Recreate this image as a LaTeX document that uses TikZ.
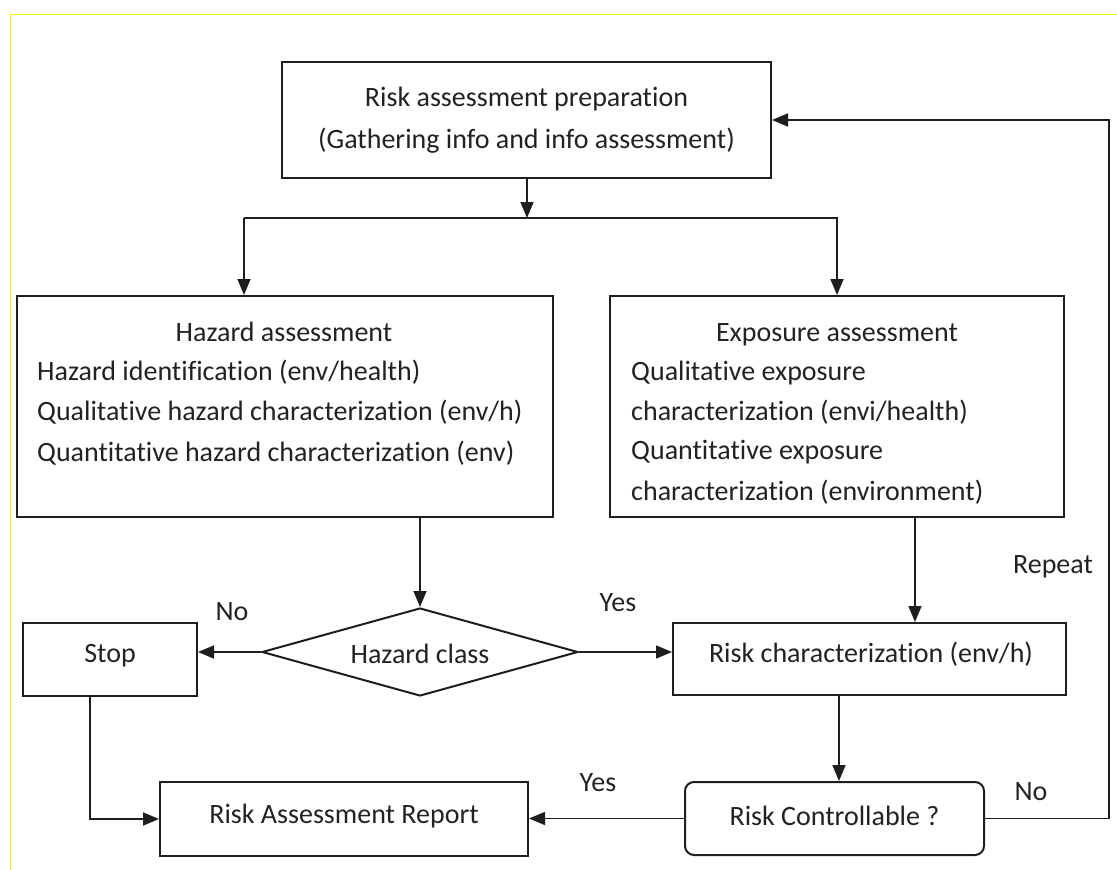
\documentclass[tikz,border=0pt]{standalone}
\usepackage{fontspec}
\setmainfont{Carlito}[Ligatures=NoCommon]
\usetikzlibrary{arrows.meta,shapes.geometric,calc}
\definecolor{ink}{HTML}{1E1E1E}
\definecolor{txt}{HTML}{222222}
\begin{document}
\begin{tikzpicture}[x=1pt,y=-1pt,
  every node/.style={text=txt},
  lbl/.style={font=\fontsize{28}{33}\selectfont, inner sep=0pt},
  boxnode/.style={draw=ink, line width=2pt, inner sep=0pt},
  decision/.style={diamond, draw=ink, line width=2pt, inner sep=0pt},
  conn/.style={draw=ink, line width=1.6pt},
  arr/.style={conn, -{Triangle[length=16pt,width=13pt]}}]
\useasboundingbox (0,0) rectangle (1117,870);
\fill[white] (0,0) rectangle (1117,870);
% frame lines along top and left
\draw[yellow, line width=1.4pt] (10.7,870) -- (10.7,14.7) -- (1117,14.7);

% boxes
\node[boxnode, minimum width=489pt, minimum height=116pt] (prep) at (526.5,120) {};
\node[boxnode, minimum width=536pt, minimum height=221pt] (haz) at (285,406.5) {};
\node[boxnode, minimum width=454pt, minimum height=221pt] (expo) at (837,406.5) {};
\node[decision, minimum width=316pt, minimum height=88pt] (cls) at (420,652) {};
\node[boxnode, minimum width=174pt, minimum height=73pt] (stop) at (110,659.5) {};
\node[boxnode, minimum width=393pt, minimum height=72pt] (rc) at (869.5,659) {};
\node[boxnode, rounded corners=9pt, minimum width=299pt, minimum height=73pt] (ctrl) at (834.5,818.5) {};
\node[boxnode, minimum width=368pt, minimum height=74pt] (rep) at (344,819) {};

% box texts
\node[lbl, anchor=base] (prepA) at (526.5,106) {Risk assessment preparation};
\node[lbl, anchor=base] (prepB) at (526.5,148) {(Gathering info and info assessment)};

\node[lbl, anchor=base] (hazT) at (284,341) {Hazard assessment};
\node[lbl, anchor=base west] (hazA) at (37,380) {Hazard identification (env/health)};
\node[lbl, anchor=base west] (hazB) at (37,420) {Qualitative hazard characterization (env/h)};
\node[lbl, anchor=base west] (hazC) at (37,461) {Quantitative hazard characterization (env)};

\node[lbl, anchor=base] (expT) at (837,341) {Exposure assessment};
\node[lbl, anchor=base west] (expA) at (631,380) {Qualitative exposure};
\node[lbl, anchor=base west] (expB) at (631,420) {characterization (envi/health)};
\node[lbl, anchor=base west] (expC) at (631,459) {Quantitative exposure};
\node[lbl, anchor=base west] (expD) at (631,500) {characterization (environment)};

\node[lbl, anchor=base] (clsT) at (420,663) {Hazard class};
\node[lbl, anchor=base] (stopT) at (110,662) {Stop};
\node[lbl, anchor=base] (rcT) at (871,662) {Risk characterization (env/h)};
\node[lbl, anchor=base] (ctrlT) at (834.5,825) {Risk Controllable ?};
\node[lbl, anchor=base] (repT) at (344,823) {Risk Assessment Report};

% connector labels
\node[lbl, anchor=base] (noA) at (232,620) {No};
\node[lbl, anchor=base] (yesA) at (618,611) {Yes};
\node[lbl, anchor=base] (rpt) at (1053,573) {Repeat};
\node[lbl, anchor=base] (yesB) at (598,791) {Yes};
\node[lbl, anchor=base] (noB) at (1031,800) {No};

% connectors
\coordinate (split) at (527,218);
\coordinate (lft) at (244,218);
\coordinate (loopT) at (1109,120);
\draw[arr] (prep.south -| split) -- (split);
\draw[conn] (lft) -- (split);
\draw[arr] (lft) -- (lft |- haz.north);
\draw[arr] (split) -| (expo.north);
\draw[arr] (cls.north |- haz.south) -- (cls.north);
\draw[arr] (cls.west) -- (cls.west -| stop.east);
\draw[arr] (cls.east) -- (cls.east -| rc.west);
\draw[arr] ([xshift=78pt]expo.south) -- ([xshift=78pt]expo.south |- rc.north);
\draw[arr] ([xshift=4.5pt]ctrl.north |- rc.south) -- ([xshift=4.5pt]ctrl.north);
\draw[arr] (ctrl.west) -- (ctrl.west -| rep.east);
\draw[arr] (ctrl.east) -| (loopT) -- (prep.east);
\draw[arr] ([xshift=-20pt]stop.south) |- (rep.west);
\end{tikzpicture}
\end{document}
